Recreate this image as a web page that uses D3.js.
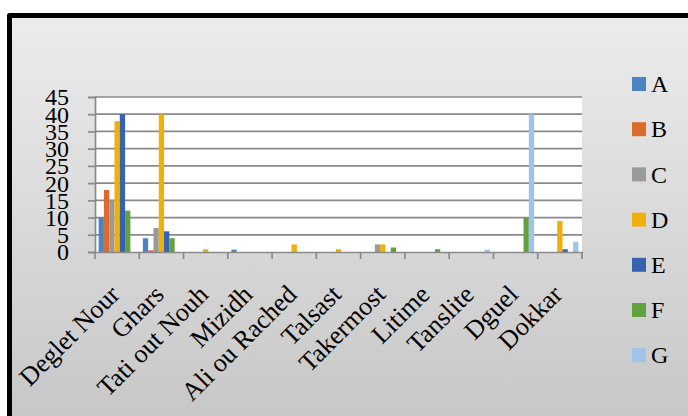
<!DOCTYPE html>
<html>
<head>
<meta charset="utf-8">
<script src="https://cdn.jsdelivr.net/npm/d3@7"></script>
<style>
  html, body { margin: 0; padding: 0; background: #fff; overflow: hidden; }
  svg { display: block; }
</style>
</head>
<body>
<svg id="chart" width="688" height="416"></svg>
<script>
// Date palm cultivars (x categories)
const categories = ["Deglet Nour", "Ghars", "Tati out Nouh", "Mizidh", "Ali ou Rached",
  "Talsast", "Takermost", "Litime", "Tanslite", "Dguel", "Dokkar"];

// One array per series, in category order
const seriesA = [10, 4, 0, 0.7, 0, 0, 0, 0, 0, 0, 0];
const seriesB = [18, 0.5, 0, 0, 0, 0, 0, 0, 0, 0, 0];
const seriesC = [15, 7, 0, 0, 0, 0, 2.2, 0, 0, 0, 0];
const seriesD = [38, 40, 0.8, 0, 2.2, 0.8, 2.2, 0, 0, 0, 9];
const seriesE = [40, 6, 0, 0, 0, 0, 0, 0, 0, 0, 0.8];
const seriesF = [12, 4, 0, 0, 0, 0, 1.3, 0.8, 0, 10, 0];
const seriesG = [0, 0, 0, 0, 0, 0, 0, 0, 0.7, 40, 3];

const seriesNames = ["A", "B", "C", "D", "E", "F", "G"];
const seriesValues = [seriesA, seriesB, seriesC, seriesD, seriesE, seriesF, seriesG];
const seriesColors = ["#4a84c4", "#dc6a2c", "#9a9a9a", "#edb00c", "#3563b0", "#63a040", "#9fc3e9"];

const yTicks = [0, 5, 10, 15, 20, 25, 30, 35, 40, 45];

const serif = "'Liberation Serif', 'Times New Roman', serif";
const svg = d3.select("#chart");
const W = 688, H = 416;

// Panel background with vertical gradient
const defs = svg.append("defs");
const grad = defs.append("linearGradient").attr("id", "bg").attr("x1", 0).attr("y1", 0).attr("x2", 0).attr("y2", 1);
grad.append("stop").attr("offset", "0%").attr("stop-color", "#ececec");
grad.append("stop").attr("offset", "100%").attr("stop-color", "#c6c6c6");

svg.append("rect").attr("x", 0).attr("y", 0).attr("width", W).attr("height", H).attr("fill", "#ffffff");
svg.append("rect").attr("x", 9.5).attr("y", 15.5).attr("width", W).attr("height", H)
  .attr("fill", "url(#bg)");
// Frame: left and top edges
svg.append("path").attr("d", `M9.5,${H} L9.5,15.5 L${W},15.5`)
  .attr("fill", "none").attr("stroke", "#000").attr("stroke-width", 5).attr("stroke-linejoin", "round");

const plot = { left: 95, right: 582, top: 97, bottom: 252 };

const x0 = d3.scaleBand().domain(categories).range([plot.left, plot.right]).paddingInner(0).paddingOuter(0);
const x1 = d3.scaleBand().domain(seriesNames).range([0, x0.bandwidth()]).paddingInner(0).paddingOuter(0.68);
const y = d3.scaleLinear().domain([0, 45]).range([plot.bottom, plot.top]);

// White plot area
svg.append("rect").attr("x", plot.left).attr("y", plot.top)
  .attr("width", plot.right - plot.left).attr("height", plot.bottom - plot.top).attr("fill", "#ffffff");

// Horizontal gridlines
svg.append("g").selectAll("line").data(yTicks.filter(d => d > 0)).join("line")
  .attr("x1", plot.left).attr("x2", plot.right)
  .attr("y1", d => y(d)).attr("y2", d => y(d))
  .attr("stroke", "#8a8a8a").attr("stroke-width", 1.7);

// Bars
const barG = svg.append("g");
seriesNames.forEach((s, si) => {
  barG.append("g").selectAll("rect")
    .data(categories.map((c, ci) => ({ c, v: seriesValues[si][ci] })).filter(d => d.v > 0))
    .join("rect")
    .attr("x", d => x0(d.c) + x1(s))
    .attr("y", d => y(d.v))
    .attr("width", x1.bandwidth())
    .attr("height", d => y(0) - y(d.v))
    .attr("fill", seriesColors[si]);
});

// Y axis
const yAxis = d3.axisLeft(y).tickValues(yTicks).tickSize(7).tickFormat(d3.format("d"));
const yg = svg.append("g").attr("transform", `translate(${plot.left},0)`).call(yAxis);
yg.select(".domain").attr("stroke", "#8a8a8a").attr("stroke-width", 1.7);
yg.selectAll(".tick line").attr("stroke", "#8a8a8a").attr("stroke-width", 1.7);
yg.selectAll(".tick text")
  .attr("x", -26).attr("dy", "0.33em")
  .attr("font-family", serif)
  .attr("font-size", 24).attr("fill", "#000");

// X axis with ticks at category boundaries
const xAxis = d3.axisBottom(x0).tickSize(0).tickFormat("");
const xg = svg.append("g").attr("transform", `translate(0,${plot.bottom})`).call(xAxis);
xg.select(".domain").attr("stroke", "#8a8a8a").attr("stroke-width", 1.7);
const bounds = categories.map(c => x0(c)).concat([x0.range()[1]]);
svg.append("g").selectAll("line").data(bounds).join("line")
  .attr("x1", d => d).attr("x2", d => d)
  .attr("y1", plot.bottom).attr("y2", plot.bottom + 7)
  .attr("stroke", "#8a8a8a").attr("stroke-width", 1.7);

// Rotated category labels
svg.append("g").selectAll("text").data(categories).join("text")
  .attr("transform", d => `translate(${x0(d) + x0.bandwidth() / 2 + 4},${plot.bottom + 44}) rotate(-45)`)
  .attr("text-anchor", "end")
  .attr("font-family", serif)
  .attr("font-size", 26).attr("fill", "#000")
  .text(d => d);

// Legend
const legend = svg.append("g");
seriesNames.forEach((s, i) => {
  const cy = 84 + i * 45.2;
  legend.append("rect").attr("x", 632).attr("y", cy - 7).attr("width", 14).attr("height", 14)
    .attr("fill", seriesColors[i]);
  legend.append("text").attr("x", 651).attr("y", cy).attr("dy", "0.34em")
    .attr("font-family", serif)
    .attr("font-size", 24).attr("fill", "#000")
    .text(s);
});
</script>
</body>
</html>
